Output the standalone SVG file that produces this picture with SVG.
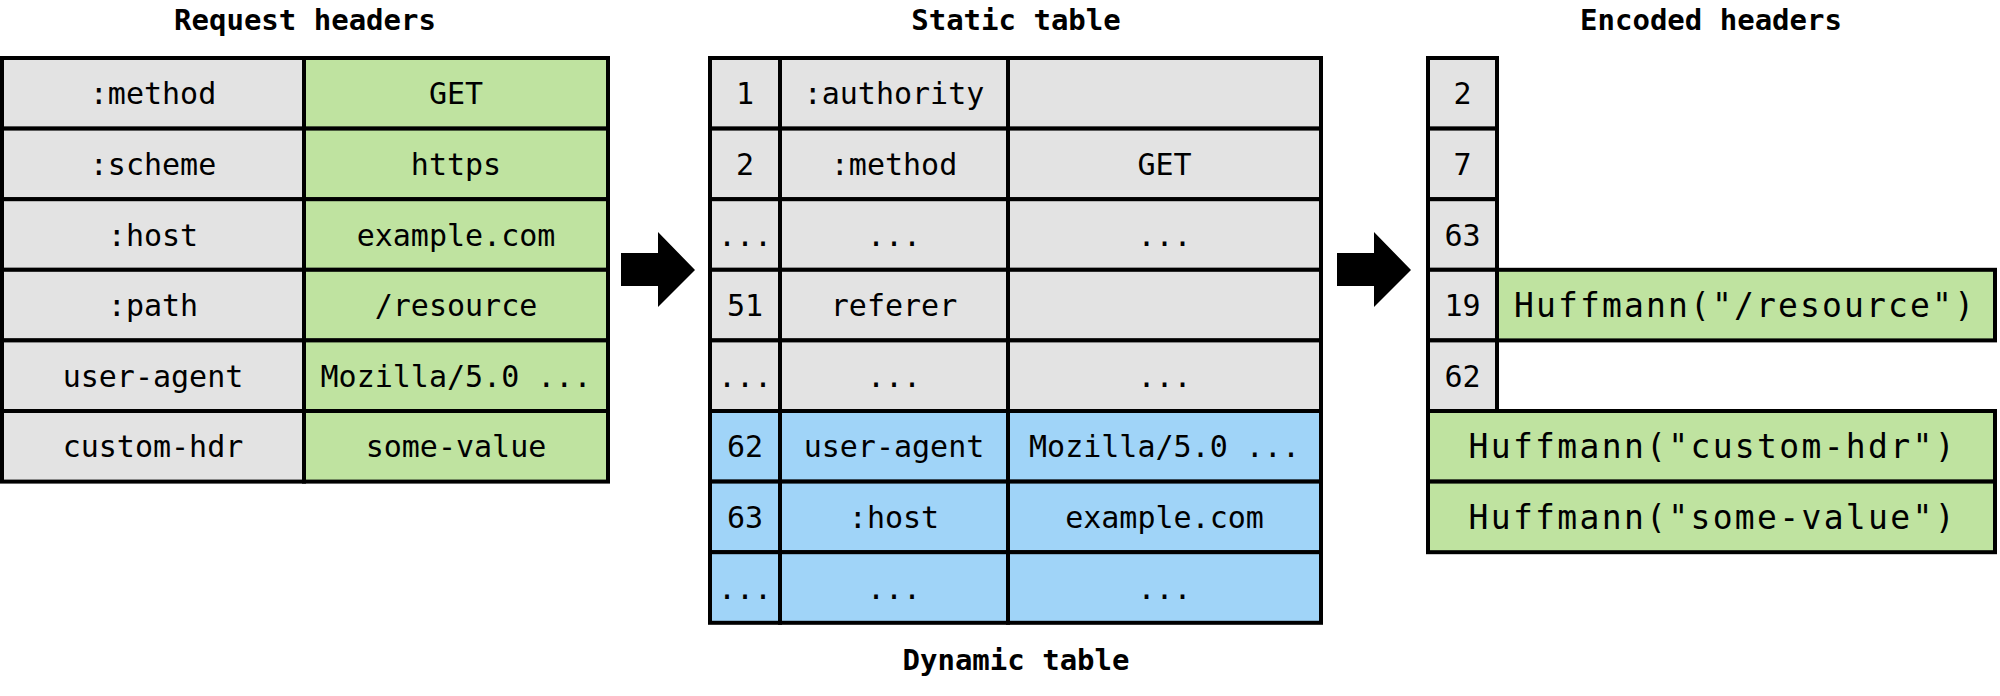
<svg xmlns="http://www.w3.org/2000/svg" width="2000" height="696" viewBox="0 0 2000 696">
<style>
  .g { fill: #e3e3e3; stroke: #000; stroke-width: 4; }
  .gr { fill: #bfe3a0; stroke: #000; stroke-width: 4; }
  .bl { fill: #a0d4f8; stroke: #000; stroke-width: 4; }
  text { font-family: "DejaVu Sans Mono", "Liberation Mono", monospace; font-size: 30px; fill: #000; text-anchor: middle; }
  .title { font-weight: bold; font-size: 29px; }
  .huff { font-size: 33px; }
  .arrow { fill: #000; stroke: none; }
</style>
<rect width="2000" height="696" fill="#fff"/>

<text class="title" x="305" y="30">Request headers</text>
<text class="title" x="1016" y="30">Static table</text>
<text class="title" x="1711" y="30">Encoded headers</text>
<text class="title" x="1016" y="670">Dynamic table</text>

<g id="request-headers">
  <rect class="g" x="2" y="58" width="302" height="70.6"/>
  <rect class="gr" x="304" y="58" width="304" height="70.6"/>
  <rect class="g" x="2" y="128.6" width="302" height="70.6"/>
  <rect class="gr" x="304" y="128.6" width="304" height="70.6"/>
  <rect class="g" x="2" y="199.2" width="302" height="70.6"/>
  <rect class="gr" x="304" y="199.2" width="304" height="70.6"/>
  <rect class="g" x="2" y="269.8" width="302" height="70.6"/>
  <rect class="gr" x="304" y="269.8" width="304" height="70.6"/>
  <rect class="g" x="2" y="340.4" width="302" height="70.6"/>
  <rect class="gr" x="304" y="340.4" width="304" height="70.6"/>
  <rect class="g" x="2" y="411" width="302" height="70.6"/>
  <rect class="gr" x="304" y="411" width="304" height="70.6"/>
  <text x="153" y="104.3">:method</text><text x="456" y="104.3">GET</text>
  <text x="153" y="174.9">:scheme</text><text x="456" y="174.9">https</text>
  <text x="153" y="245.5">:host</text><text x="456" y="245.5">example.com</text>
  <text x="153" y="316.1">:path</text><text x="456" y="316.1">/resource</text>
  <text x="153" y="386.7">user-agent</text><text x="456" y="386.7">Mozilla/5.0 ...</text>
  <text x="153" y="457.3">custom-hdr</text><text x="456" y="457.3">some-value</text>
</g>

<g id="static-table">
  <rect class="g" x="710" y="58" width="70" height="70.6"/>
  <rect class="g" x="780" y="58" width="228" height="70.6"/>
  <rect class="g" x="1008" y="58" width="313" height="70.6"/>
  <rect class="g" x="710" y="128.6" width="70" height="70.6"/>
  <rect class="g" x="780" y="128.6" width="228" height="70.6"/>
  <rect class="g" x="1008" y="128.6" width="313" height="70.6"/>
  <rect class="g" x="710" y="199.2" width="70" height="70.6"/>
  <rect class="g" x="780" y="199.2" width="228" height="70.6"/>
  <rect class="g" x="1008" y="199.2" width="313" height="70.6"/>
  <rect class="g" x="710" y="269.8" width="70" height="70.6"/>
  <rect class="g" x="780" y="269.8" width="228" height="70.6"/>
  <rect class="g" x="1008" y="269.8" width="313" height="70.6"/>
  <rect class="g" x="710" y="340.4" width="70" height="70.6"/>
  <rect class="g" x="780" y="340.4" width="228" height="70.6"/>
  <rect class="g" x="1008" y="340.4" width="313" height="70.6"/>
  <text x="745" y="104.3">1</text><text x="894" y="104.3">:authority</text>
  <text x="745" y="174.9">2</text><text x="894" y="174.9">:method</text><text x="1164.5" y="174.9">GET</text>
  <text x="745" y="245.5">...</text><text x="894" y="245.5">...</text><text x="1164.5" y="245.5">...</text>
  <text x="745" y="316.1">51</text><text x="894" y="316.1">referer</text>
  <text x="745" y="386.7">...</text><text x="894" y="386.7">...</text><text x="1164.5" y="386.7">...</text>
</g>

<g id="dynamic-table">
  <rect class="bl" x="710" y="411" width="70" height="70.6"/>
  <rect class="bl" x="780" y="411" width="228" height="70.6"/>
  <rect class="bl" x="1008" y="411" width="313" height="70.6"/>
  <rect class="bl" x="710" y="481.6" width="70" height="70.6"/>
  <rect class="bl" x="780" y="481.6" width="228" height="70.6"/>
  <rect class="bl" x="1008" y="481.6" width="313" height="70.6"/>
  <rect class="bl" x="710" y="552.2" width="70" height="70.6"/>
  <rect class="bl" x="780" y="552.2" width="228" height="70.6"/>
  <rect class="bl" x="1008" y="552.2" width="313" height="70.6"/>
  <text x="745" y="457.3">62</text><text x="894" y="457.3">user-agent</text><text x="1164.5" y="457.3">Mozilla/5.0 ...</text>
  <text x="745" y="527.9">63</text><text x="894" y="527.9">:host</text><text x="1164.5" y="527.9">example.com</text>
  <text x="745" y="598.5">...</text><text x="894" y="598.5">...</text><text x="1164.5" y="598.5">...</text>
</g>

<g id="encoded-headers">
  <rect class="g" x="1428" y="58" width="69" height="70.6"/>
  <rect class="g" x="1428" y="128.6" width="69" height="70.6"/>
  <rect class="g" x="1428" y="199.2" width="69" height="70.6"/>
  <rect class="g" x="1428" y="269.8" width="69" height="70.6"/>
  <rect class="gr" x="1497" y="269.8" width="498" height="70.6"/>
  <rect class="g" x="1428" y="340.4" width="69" height="70.6"/>
  <rect class="gr" x="1428" y="411" width="567" height="70.6"/>
  <rect class="gr" x="1428" y="481.6" width="567" height="70.6"/>
  <text x="1462.5" y="104.3">2</text>
  <text x="1462.5" y="174.9">7</text>
  <text x="1462.5" y="245.5">63</text>
  <text x="1462.5" y="316.1">19</text>
  <text class="huff" x="1744" y="317" textLength="460" lengthAdjust="spacing">Huffmann("/resource")</text>
  <text x="1462.5" y="386.7">62</text>
  <text class="huff" x="1711.5" y="458.2" textLength="486" lengthAdjust="spacing">Huffmann("custom-hdr")</text>
  <text class="huff" x="1711.5" y="528.8" textLength="486" lengthAdjust="spacing">Huffmann("some-value")</text>
</g>

<g id="connectors">
  <polygon class="arrow" points="621,253 658,253 658,232 695,270 658,307 658,286 621,286"/>
  <polygon class="arrow" points="1337,253 1374,253 1374,232 1411,270 1374,307 1374,286 1337,286"/>
</g>
</svg>
